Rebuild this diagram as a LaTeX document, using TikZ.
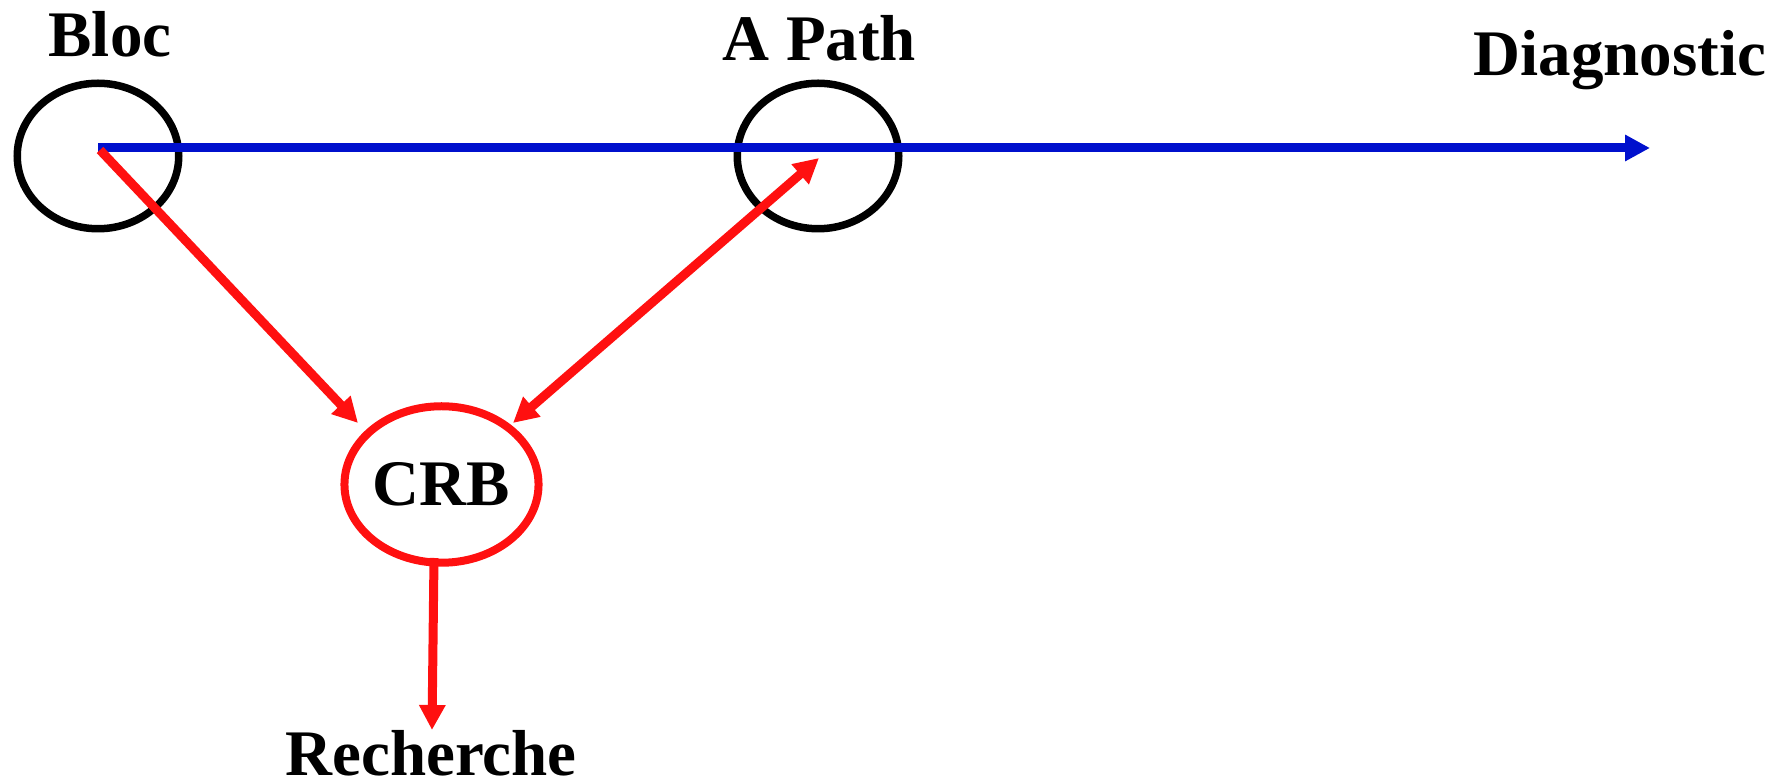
\documentclass[tikz,border=0pt]{standalone}
\usepackage{fontspec}
\setmainfont{Liberation Serif}
\usetikzlibrary{shapes.geometric,arrows.meta}
\definecolor{lineblue}{RGB}{0,16,205}
\definecolor{linered}{RGB}{255,16,16}
\tikzset{
  hub/.style={ellipse,draw=black,line width=3pt,inner sep=0pt,minimum width=64.6pt,minimum height=58.2pt},
  lbl/.style={font=\bfseries\fontsize{26}{30}\selectfont,inner sep=0pt,anchor=base},
  redarrow/.style={draw=linered,line width=3.6pt,-{Triangle[length=10pt,width=10pt]}},
}
\begin{document}
\begin{tikzpicture}[x=0.4pt,y=-0.4pt]
\useasboundingbox (0,0) rectangle (1787,784);
% ellipses
\node[hub] (bloc) at (98,156) {};
\node[hub] (apath) at (818,156) {};
\node[hub,draw=linered,line width=3.2pt,minimum width=69.8pt,minimum height=62.6pt,font=\bfseries\fontsize{26}{30}\selectfont] (crb) at (441.5,484.5) {CRB};
% labels
\node[lbl] (bloctxt) at (110,57) {Bloc};
\node[lbl] (apathtxt) at (819.5,61) {A Path};
\node[lbl] (diagtxt) at (1620,76) {Diagnostic};
\node[lbl] (rechtxt) at (431,776) {Recherche};
% connector ends
\coordinate (blocHub) at (98,148);
\coordinate (diagTip) at (1650,148);
\coordinate (blocRed) at (100,150);
\coordinate (crbIn) at (358,423);
\coordinate (crbOut) at (513,423);
\coordinate (apathIn) at (819,158);
\coordinate (crbDown) at (434,558);
\coordinate (rechTip) at (432,730);
% connectors
\draw[draw=lineblue,line width=3.6pt,-{Triangle[length=10pt,width=10pt]}] (blocHub) -- (diagTip);
\draw[redarrow] (blocRed) -- (crbIn);
\draw[redarrow,{Triangle[length=10pt,width=10pt]}-{Triangle[length=10pt,width=10pt]}] (crbOut) -- (apathIn);
\draw[redarrow] (crbDown) -- (rechTip);
\end{tikzpicture}
\end{document}
